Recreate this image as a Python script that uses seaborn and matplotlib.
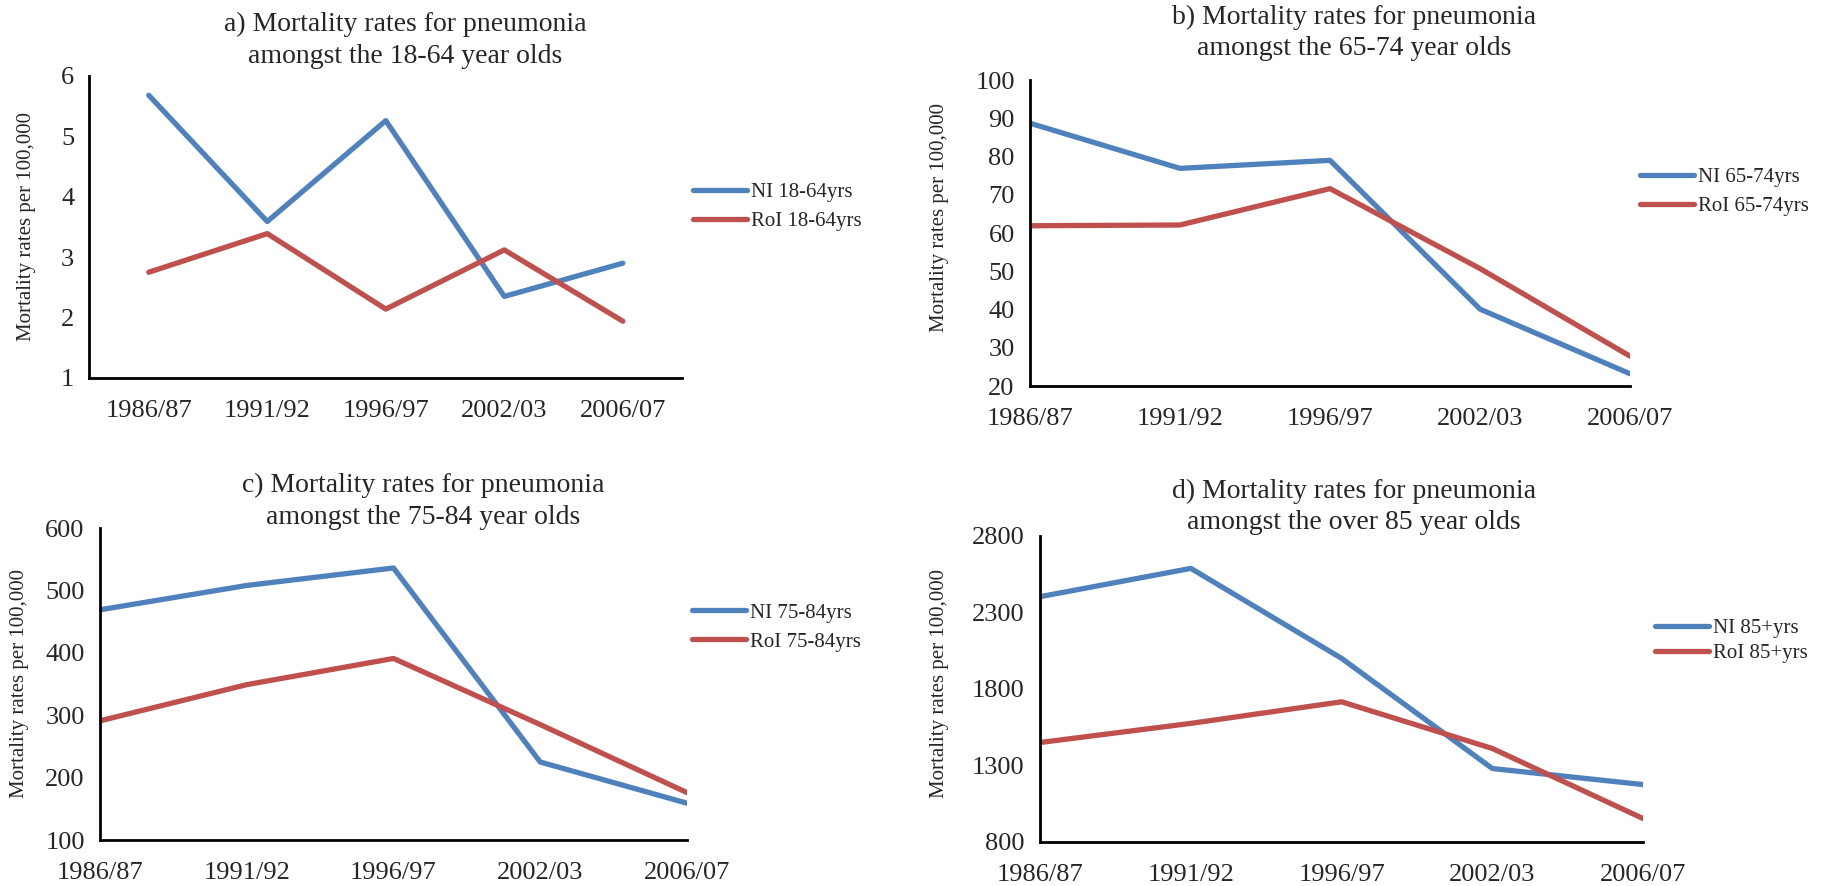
import pandas as pd
import matplotlib
matplotlib.use('Agg')
import matplotlib.pyplot as plt
import seaborn as sns

# --- données ---
periodes = ['1986/87', '1991/92', '1996/97', '2002/03', '2006/07']

ni_18_64 = [5.68, 3.59, 5.26, 2.35, 2.90]
roi_18_64 = [2.75, 3.39, 2.14, 3.12, 1.94]

ni_65_74 = [88.7, 76.9, 79.0, 40.1, 23.2]
roi_65_74 = [61.9, 62.1, 71.6, 50.7, 27.8]

ni_75_84 = [469, 508, 536, 225, 159]
roi_75_84 = [291, 349, 391, 285, 176]

ni_85 = [2403, 2588, 2000, 1280, 1175]
roi_85 = [1450, 1575, 1716, 1411, 953]

couleurs = ['#4F81BD', '#C0504D']

sns.set_style('white')
plt.rcParams['font.family'] = ['Liberation Serif', 'DejaVu Serif']

fig = plt.figure(figsize=(18.34, 8.86), dpi=100)

panneaux = [
    dict(ni=ni_18_64, roi=roi_18_64, lab='18-64yrs', rect=[0.0488, 0.5734, 0.3231, 0.3409],
         ylim=(1, 6), yticks=range(1, 7), entre=True,
         titre='a) Mortality rates for pneumonia\namongst the 18-64 year olds', tpos=(0.2208, 0.9545),
         ypos=(0.0147, 0.7438), leg=(0.3779, 0.7669), lsp=0.45),
    dict(ni=ni_65_74, roi=roi_65_74, lab='65-74yrs', rect=[0.5616, 0.5643, 0.3272, 0.3454],
         ylim=(20, 100), yticks=range(20, 101, 10), entre=False,
         titre='b) Mortality rates for pneumonia\namongst the 65-74 year olds', tpos=(0.7383, 0.963),
         ypos=(0.5125, 0.755), leg=(0.8942, 0.7833), lsp=0.45),
    dict(ni=ni_75_84, roi=roi_75_84, lab='75-84yrs', rect=[0.0545, 0.0519, 0.3201, 0.3521],
         ylim=(100, 600), yticks=range(100, 601, 100), entre=False,
         titre='c) Mortality rates for pneumonia\namongst the 75-84 year olds', tpos=(0.2306, 0.434),
         ypos=(0.0109, 0.229), leg=(0.3773, 0.2918), lsp=0.45),
    dict(ni=ni_85, roi=roi_85, lab='85+yrs', rect=[0.5671, 0.0497, 0.3288, 0.3454],
         ylim=(800, 2800), yticks=range(800, 2801, 500), entre=False,
         titre='d) Mortality rates for pneumonia\namongst the over 85 year olds', tpos=(0.7383, 0.428),
         ypos=(0.512, 0.229), leg=(0.9024, 0.2765), lsp=0.25),
]

for p in panneaux:
    ax = fig.add_axes(p['rect'])
    df = pd.DataFrame({
        'periode': periodes * 2,
        'taux': p['ni'] + p['roi'],
        'serie': ['NI ' + p['lab']] * 5 + ['RoI ' + p['lab']] * 5,
    })
    sns.lineplot(data=df, x='periode', y='taux', hue='serie', palette=couleurs,
                 sort=False, linewidth=3.8, ax=ax, solid_capstyle='round')

    # axes
    ax.set_ylim(*p['ylim'])
    ax.set_yticks(list(p['yticks']))
    if p['entre']:
        ax.set_xlim(-0.5, 4.5)
        ax.set_xticks([i - 0.5 for i in range(6)], [''] * 6)
        ax.set_xticks(range(5), periodes, minor=True)
        ax.tick_params(axis='x', which='minor', length=0, pad=16)
        xpad = 5
    else:
        ax.set_xlim(0, 4)
        ax.set_xticks(range(5), periodes)
        xpad = 10
    ax.tick_params(axis='both', which='major', direction='out', length=6, width=1.6,
                   labelsize=19, pad=5, color='black')
    ax.tick_params(axis='x', which='major', pad=xpad)
    ax.tick_params(axis='x', which='minor', labelsize=19)
    for s in ['top', 'right']:
        ax.spines[s].set_visible(False)
    for s in ['left', 'bottom']:
        ax.spines[s].set_linewidth(2)
        ax.spines[s].set_color('black')
    ax.set_xlabel('')
    ax.set_ylabel('')

    fig.text(p['ypos'][0], p['ypos'][1], 'Mortality rates per 100,000', rotation=90,
             ha='center', va='center', fontsize=15)
    fig.text(p['tpos'][0], p['tpos'][1], p['titre'], ha='center', va='center',
             fontsize=20, linespacing=1.35)

    leg = ax.legend(loc='center left', bbox_to_anchor=p['leg'], bbox_transform=fig.transFigure,
                    frameon=False, fontsize=15, handlelength=2.6, handletextpad=0.2,
                    borderpad=0, borderaxespad=0, labelspacing=p['lsp'], title=None)
    for l in leg.get_lines():
        l.set_linewidth(3.8)
        l.set_solid_capstyle('round')

fig.savefig('out.png', dpi=100)
